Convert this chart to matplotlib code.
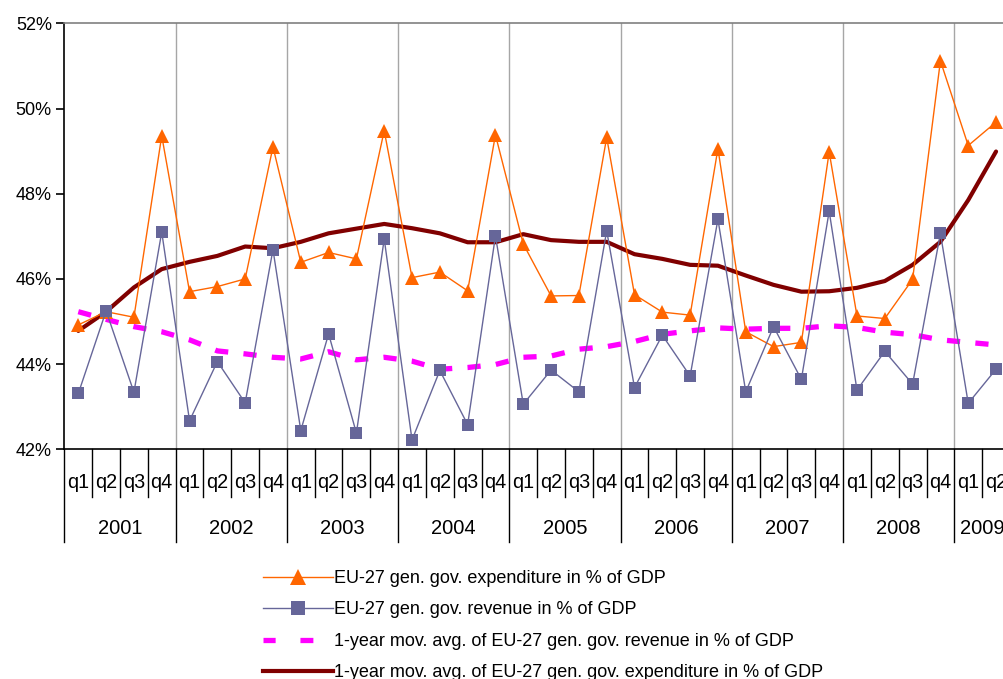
import matplotlib
matplotlib.use("Agg")
import matplotlib.pyplot as plt
import matplotlib.transforms as mtransforms
from matplotlib.lines import Line2D
import numpy as np

plt.rcParams['font.family'] = ['Liberation Sans', 'DejaVu Sans']

years = [2001, 2002, 2003, 2004, 2005, 2006, 2007, 2008, 2009]
quarter_names = ['q1', 'q2', 'q3', 'q4']
n_quarters_last_year = 2

expenditure = [44.92, 45.23, 45.10, 49.36,
               45.70, 45.82, 46.00, 49.10,
               46.39, 46.62, 46.47, 49.48,
               46.03, 46.16, 45.72, 49.38,
               46.82, 45.60, 45.61, 49.32,
               45.63, 45.22, 45.15, 49.06,
               44.76, 44.41, 44.51, 48.98,
               45.13, 45.07, 45.99, 51.12,
               49.13, 49.68]
revenue = [43.31, 45.25, 43.34, 47.10,
           42.67, 44.06, 43.09, 46.69,
           42.44, 44.71, 42.38, 46.94,
           42.22, 43.85, 42.58, 47.01,
           43.06, 43.86, 43.35, 47.13,
           43.45, 44.68, 43.72, 47.40,
           43.35, 44.88, 43.64, 47.59,
           43.39, 44.30, 43.53, 47.07,
           43.08, 43.88]
mavg_revenue = [45.23, 45.05, 44.88, 44.76,
                44.57, 44.31, 44.24, 44.16,
                44.12, 44.29, 44.10, 44.16,
                44.07, 43.88, 43.92, 43.99,
                44.16, 44.19, 44.35, 44.41,
                44.53, 44.70, 44.78, 44.85,
                44.82, 44.84, 44.84, 44.90,
                44.86, 44.75, 44.69, 44.57,
                44.51, 44.45]
mavg_expenditure = [44.78, 45.23, 45.80, 46.23,
                    46.40, 46.54, 46.76, 46.72,
                    46.87, 47.07, 47.18, 47.29,
                    47.19, 47.07, 46.86, 46.86,
                    47.05, 46.91, 46.87, 46.87,
                    46.58, 46.47, 46.33, 46.31,
                    46.08, 45.86, 45.70, 45.71,
                    45.79, 45.95, 46.33, 46.87,
                    47.85, 48.99]

labels = ['EU-27 gen. gov. expenditure in % of GDP',
          'EU-27 gen. gov. revenue in % of GDP',
          '1-year mov. avg. of EU-27 gen. gov. revenue in % of GDP',
          '1-year mov. avg. of EU-27 gen. gov. expenditure in % of GDP']
yticks = [42, 44, 46, 48, 50, 52]

# categories
cat_year = []
cat_q = []
for i, y in enumerate(years):
    nq = 4 if i < len(years) - 1 else n_quarters_last_year
    for q in range(nq):
        cat_year.append(y)
        cat_q.append(quarter_names[q])
x = np.arange(len(cat_q))

W, H = 1004, 679
fig = plt.figure(figsize=(W / 100, H / 100), dpi=100)
left_px, top_px, bot_px = 64.4, 23.3, 449.3
step = 27.81
ax = fig.add_axes([left_px / W, 1 - bot_px / H, 1 - left_px / W, (bot_px - top_px) / H])
xmax = (W - left_px) / step - 0.5
ax.set_xlim(-0.5, xmax)
ax.set_ylim(42, 52)

c_exp = '#FF6600'
c_rev = '#666699'
c_mrev = '#FF00FF'
c_mexp = '#800000'

ax.plot(x, mavg_revenue, color=c_mrev, lw=3.8, dashes=(2.5, 2.9),
        dash_capstyle='butt', zorder=3)
ax.plot(x, mavg_expenditure, color=c_mexp, lw=3.0, solid_joinstyle='round',
        solid_capstyle='round', zorder=4)
ax.plot(x, expenditure, color=c_exp, lw=1.0, marker='^', ms=10,
        markeredgewidth=0, zorder=5)
ax.plot(x, revenue, color=c_rev, lw=1.0, marker='s', ms=8.6,
        markeredgewidth=0, zorder=6)

# year separators / gridlines
year_starts = [i for i in range(len(cat_year)) if i == 0 or cat_year[i] != cat_year[i - 1]]
for s in year_starts[1:]:
    ax.axvline(s - 0.5, color='#A6A6A6', lw=1.0, zorder=1)

ax.spines['right'].set_visible(False)
ax.spines['top'].set_color('#808080')
ax.spines['top'].set_linewidth(1.2)
ax.spines['left'].set_linewidth(1.2)
ax.spines['bottom'].set_linewidth(1.2)

ax.set_yticks(yticks)
ax.set_yticklabels([f'{v}%' for v in yticks], fontsize=13)
ax.tick_params(axis='y', direction='out', length=6, width=1.2, pad=3)
ax.set_xticks([])

trans = mtransforms.blended_transform_factory(ax.transData, ax.transAxes)
ax_h = bot_px - top_px
q_sep = -(497 - bot_px) / ax_h
y_sep = -(542 - bot_px) / ax_h
for i in range(len(cat_q)):
    b = i - 0.5
    yb = y_sep if i in year_starts else q_sep
    ax.plot([b, b], [0, yb], transform=trans, color='black', lw=1.0, clip_on=False)
    ax.text(i, -(483 - bot_px) / ax_h, cat_q[i], transform=trans, ha='center',
            va='center', fontsize=14.2, clip_on=False)
ax.plot([len(cat_q) - 0.5] * 2, [0, q_sep], transform=trans, color='black', lw=1.0, clip_on=False)
for yr in years:
    idx = [i for i in range(len(cat_year)) if cat_year[i] == yr]
    ax.text(np.mean(idx), -(528 - bot_px) / ax_h, str(yr), transform=trans,
            ha='center', va='center', fontsize=14.5, clip_on=False)

handles = [
    Line2D([], [], color=c_exp, lw=1.0, marker='^', ms=11, markeredgewidth=0),
    Line2D([], [], color=c_rev, lw=1.0, marker='s', ms=9.5, markeredgewidth=0),
    Line2D([], [], color=c_mrev, lw=3.8, dashes=(2.3, 4.7, 2.45, 12), dash_capstyle='butt'),
    Line2D([], [], color=c_mexp, lw=3.0),
]
leg = fig.legend(handles, labels, loc='upper left',
                 bbox_to_anchor=(263 / W, 1 - 570 / H), frameon=False,
                 fontsize=13, handlelength=3.9, handletextpad=0.05,
                 labelspacing=0.80, numpoints=1, borderaxespad=0, borderpad=0)

fig.savefig('out.png', dpi=100)
